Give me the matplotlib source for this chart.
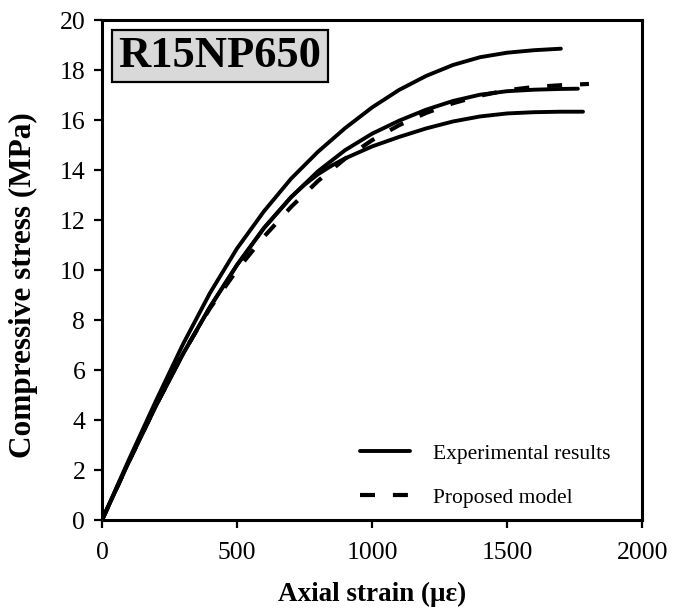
import matplotlib as mpl
mpl.use('Agg')
import matplotlib.pyplot as plt

# experimental curves (strain in microstrain, stress in MPa)
strain_exp1 = [0, 100, 200, 300, 400, 500, 600, 700, 800, 900, 1000, 1100, 1200, 1300, 1400, 1500, 1600, 1699]
stress_exp1 = [0, 2.43, 4.78, 7.04, 9.09, 10.87, 12.36, 13.66, 14.74, 15.68, 16.51, 17.21, 17.77, 18.21, 18.52, 18.70, 18.80, 18.86]

strain_exp2 = [0, 100, 200, 300, 400, 500, 600, 700, 800, 900, 1000, 1100, 1200, 1300, 1400, 1500, 1600, 1700, 1762]
stress_exp2 = [0, 2.35, 4.58, 6.65, 8.53, 10.21, 11.69, 12.92, 13.96, 14.80, 15.46, 15.98, 16.42, 16.77, 17.02, 17.16, 17.22, 17.25, 17.26]

strain_exp3 = [0, 100, 200, 300, 400, 500, 600, 700, 750, 800, 850, 900, 1000, 1100, 1200, 1300, 1400, 1500, 1600, 1700, 1781]
stress_exp3 = [0, 2.35, 4.58, 6.65, 8.53, 10.21, 11.69, 12.92, 13.42, 13.84, 14.18, 14.47, 14.95, 15.33, 15.67, 15.95, 16.15, 16.27, 16.32, 16.34, 16.34]

# proposed model
strain_model = [0, 100, 200, 300, 400, 500, 600, 700, 800, 900, 1000, 1100, 1200, 1300, 1400, 1500, 1600, 1700, 1803]
stress_model = [0, 2.35, 4.60, 6.68, 8.48, 10.01, 11.34, 12.53, 13.57, 14.46, 15.20, 15.80, 16.29, 16.68, 16.98, 17.20, 17.33, 17.40, 17.45]

plt.rcParams['font.family'] = ['Liberation Serif', 'DejaVu Serif']

fig = plt.figure(figsize=(6.89, 6.12), dpi=100)
ax = fig.add_axes([0.148, 0.150, 0.784, 0.817])

ax.plot(strain_exp1, stress_exp1, color="black", lw=2.8, solid_capstyle='round', solid_joinstyle='round',
        label="Experimental results", zorder=2)
ax.plot(strain_exp2, stress_exp2, color="black", lw=2.8, solid_capstyle='round', solid_joinstyle='round', zorder=2)
ax.plot(strain_exp3, stress_exp3, color="black", lw=2.8, solid_capstyle='round', solid_joinstyle='round', zorder=2)
ax.plot(strain_model, stress_model, color="black", lw=3.0, dashes=(3.6, 4.3), label="Proposed model", zorder=3)

ax.set_xlim(0, 2000)
ax.set_ylim(0, 20)
ax.set_xticks([0, 500, 1000, 1500, 2000])
ax.set_yticks(range(0, 21, 2))
ax.tick_params(direction='out', length=6, width=1.6, labelsize=18.5)
ax.tick_params(axis='x', pad=10)
ax.tick_params(axis='y', pad=6)
for s in ax.spines.values():
    s.set_linewidth(2.2)

fig.text(0.54, 0.028, "Axial strain (\u03bc\u03b5)", fontsize=19.5, fontweight='bold', ha='center', va='center')
fig.text(0.034, 0.534, "Compressive stress (MPa)", fontsize=22.5, fontweight='bold',
         rotation=90, ha='center', va='center')

ax.text(0.2185, 0.928, "R15NP650", transform=ax.transAxes, fontsize=32, fontweight='bold',
        ha='center', va='center',
        bbox=dict(boxstyle='square,pad=0.14', facecolor='#d9d9d9', edgecolor='black', lw=1.6))

ax.legend(loc='center left', bbox_to_anchor=(0.478, 0.089), frameon=False, fontsize=15.5,
          handlelength=2.33, handletextpad=1.07, labelspacing=1.1, borderpad=0, borderaxespad=0)

fig.savefig("out.png", dpi=100)
